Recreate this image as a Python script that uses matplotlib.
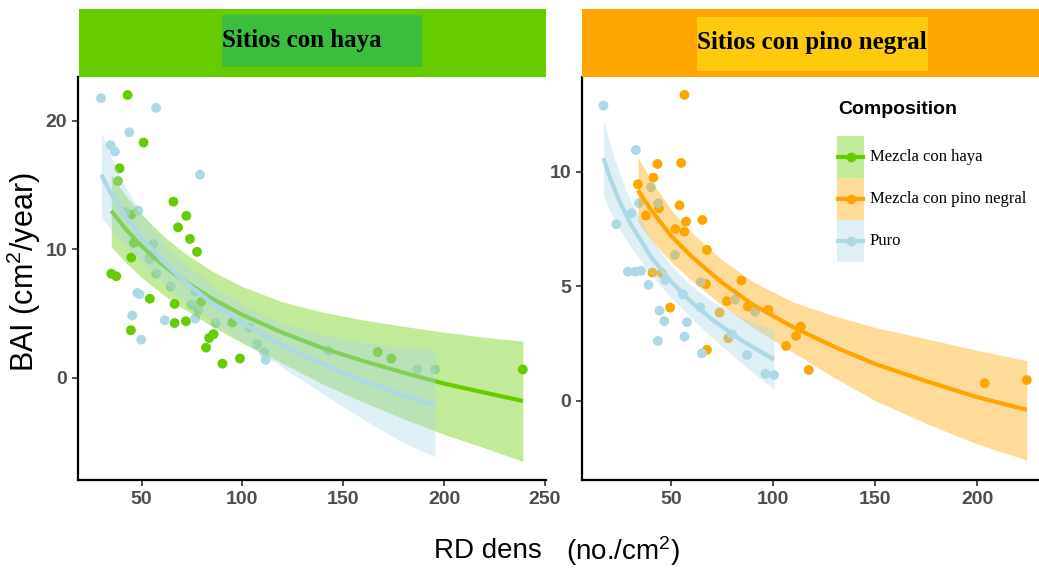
import matplotlib
matplotlib.use("Agg")
import matplotlib.pyplot as plt
from matplotlib import font_manager
from matplotlib.lines import Line2D
from matplotlib.patches import Rectangle

names = {f.name for f in font_manager.fontManager.ttflist}
NARROW = "Liberation Sans Narrow" if "Liberation Sans Narrow" in names else "Liberation Sans"
SERIF = "Liberation Serif"

plt.rcParams["mathtext.fontset"] = "custom"
plt.rcParams["mathtext.rm"] = NARROW
plt.rcParams["mathtext.it"] = NARROW

GREEN = "#66cc00"
ORANGE = "#ffa500"
BLUE = "#add8e6"

# ---- Sitios con haya: points
haya_mix_x = [43.1, 51, 39.1, 38.3, 65.8, 72.2, 44.9, 68.1, 74, 77.5, 46.2, 44.9, 54, 35, 37.5,
              54.1, 66.4, 79.6, 66.4, 72, 44.7, 83.5, 85.7, 82, 90.1, 98.8, 95, 167.1, 173.8, 239]
haya_mix_y = [22.0, 18.3, 16.3, 15.3, 13.7, 12.6, 12.7, 11.7, 10.8, 9.8, 10.5, 9.35, 9.3, 8.1, 7.9,
              6.15, 5.75, 5.9, 4.26, 4.4, 3.7, 3.1, 3.4, 2.35, 1.1, 1.5, 4.3, 2.0, 1.5, 0.65]
haya_puro_x = [29.9, 57.2, 43.9, 34.7, 36.8, 79, 48.4, 42.0, 55.8, 54.1, 57.3, 47.9, 49, 64.5, 76.8,
               74.8, 78.1, 45.4, 61.5, 76.6, 86.7, 49.8, 103.3, 107.2, 110.8, 111.5, 142.7, 186.7, 195.5]
haya_puro_y = [21.75, 21.0, 19.1, 18.1, 17.6, 15.8, 13.0, 12.9, 10.4, 9.25, 8.1, 6.6, 6.5, 7.1, 6.7,
               5.7, 5.25, 4.85, 4.47, 4.6, 4.26, 2.96, 3.9, 2.6, 2.0, 1.4, 2.1, 0.65, 0.65]

# ---- Sitios con haya: smooth curves
haya_mix_fx = [35, 42, 50, 60, 70, 85, 100, 120, 140, 160, 180, 200, 220, 239]
haya_mix_fit = [13.0, 11.6, 10.25, 8.85, 7.65, 6.15, 4.9, 3.5, 2.3, 1.3, 0.4, -0.45, -1.15, -1.8]
haya_mix_hi = [15.8, 14.2, 12.7, 11.15, 9.85, 8.3, 7.1, 5.9, 5.1, 4.5, 4.0, 3.55, 3.15, 2.85]
haya_mix_lo = [10.2, 9.0, 7.8, 6.55, 5.45, 4.0, 2.7, 1.1, -0.5, -1.9, -3.2, -4.4, -5.45, -6.5]
haya_puro_fx = [30, 35, 42, 50, 60, 70, 85, 100, 120, 140, 160, 180, 195.5]
haya_puro_fit = [15.8, 14.3, 12.55, 10.9, 9.15, 7.65, 5.8, 4.25, 2.5, 1.05, -0.25, -1.35, -2.15]
haya_puro_hi = [19.1, 17.1, 14.85, 12.8, 10.75, 9.1, 7.2, 5.7, 4.2, 3.35, 2.75, 2.35, 2.2]
haya_puro_lo = [12.5, 11.5, 10.25, 9.0, 7.55, 6.2, 4.4, 2.8, 0.8, -1.25, -3.25, -5.05, -6.15]

# ---- Sitios con pino negral: points
pino_mix_x = [56.5, 43.3, 54.9, 41.3, 33.7, 44, 54.1, 37.6, 65.3, 57.3, 56.5, 52, 67.5, 40.8, 45.4,
              67, 84.4, 77.3, 87.6, 97.6, 73.7, 49.5, 78, 67.5, 113.5, 111.2, 106.3, 117.4, 203.6, 224.2]
pino_mix_y = [13.37, 10.35, 10.39, 9.75, 9.46, 8.41, 8.54, 8.09, 7.9, 7.83, 7.39, 7.5, 6.59, 5.6, 5.57,
              5.1, 5.25, 4.35, 4.11, 3.97, 3.85, 4.07, 2.73, 2.22, 3.24, 2.83, 2.39, 1.34, 0.76, 0.9]
pino_puro_x = [16.8, 32.7, 40.1, 34.2, 43.6, 30.6, 23.1, 51.8, 28.8, 32.4, 35.3, 38.9, 47.1, 64.5,
               55.7, 81.3, 91.1, 64.2, 44.3, 46.6, 57.7, 43.5, 56.5, 79.7, 65, 87.1, 96.2, 100.4]
pino_puro_y = [12.9, 10.96, 9.33, 8.63, 8.63, 8.19, 7.71, 6.37, 5.64, 5.64, 5.68, 5.06, 5.28, 5.18,
               4.65, 4.42, 3.89, 4.08, 3.94, 3.48, 3.43, 2.61, 2.8, 2.9, 2.07, 2.0, 1.17, 1.12]

# ---- Sitios con pino negral: smooth curves
pino_mix_fx = [33.7, 40, 50, 60, 75, 90, 110, 130, 150, 175, 200, 224.2]
pino_mix_fit = [9.2, 8.35, 7.2, 6.3, 5.15, 4.2, 3.2, 2.35, 1.6, 0.85, 0.15, -0.4]
pino_mix_hi = [10.65, 9.65, 8.35, 7.35, 6.15, 5.2, 4.3, 3.7, 3.2, 2.7, 2.2, 1.75]
pino_mix_lo = [7.8, 7.05, 6.05, 5.25, 4.15, 3.2, 2.1, 1.0, 0.0, -1.0, -1.9, -2.6]
pino_puro_fx = [16.8, 20, 25, 30, 40, 50, 60, 70, 85, 100.4]
pino_puro_fit = [10.6, 9.75, 8.65, 7.75, 6.3, 5.2, 4.3, 3.55, 2.6, 1.8]
pino_puro_hi = [12.3, 11.2, 9.85, 8.75, 7.1, 5.9, 5.0, 4.35, 3.6, 3.1]
pino_puro_lo = [8.95, 8.3, 7.45, 6.75, 5.5, 4.5, 3.6, 2.75, 1.6, 0.5]

haya_xticks = [50, 100, 150, 200, 250]
haya_yticks = [0, 10, 20]
pino_xticks = [50, 100, 150, 200]
pino_yticks = [0, 5, 10]

legend_labels = ["Mezcla con haya", "Mezcla con pino negral", "Puro"]
legend_colors = [GREEN, ORANGE, BLUE]

fig = plt.figure(figsize=(10.39, 5.72), dpi=100)
W, H = 1039, 572


def fx(px):
    return px / W


def fy(py):
    return 1 - py / H


ax1 = fig.add_axes([fx(78), fy(480), fx(546) - fx(78), fy(77) - fy(480)])
ax2 = fig.add_axes([fx(582), fy(480), 1 - fx(582), fy(77) - fy(480)])


def draw_panel(ax, groups):
    for x, y, c in groups["points"]:
        ax.scatter(x, y, s=50, color=c, edgecolors="none", zorder=1)
    for sx, fit, lo, hi, c in groups["smooth"]:
        ax.fill_between(sx, lo, hi, color=c, alpha=0.4, linewidth=0, zorder=2)
        ax.plot(sx, fit, color=c, lw=3, solid_capstyle="butt", zorder=2)
    for s in ["top", "right"]:
        ax.spines[s].set_visible(False)
    for s in ["left", "bottom"]:
        ax.spines[s].set_linewidth(1.6)
        ax.spines[s].set_color("black")
    ax.tick_params(length=4, width=1.2, color="#333333", labelcolor="#4d4d4d", pad=4)
    for lab in ax.get_xticklabels() + ax.get_yticklabels():
        lab.set_fontfamily(NARROW)
        lab.set_fontweight("bold")
        lab.set_fontsize(14)


ax1.set_xlim(18.5, 250.5)
ax1.set_ylim(-7.95, 23.4)
ax1.set_xticks(haya_xticks)
ax1.set_yticks(haya_yticks)
draw_panel(ax1, {
    "points": [(haya_mix_x, haya_mix_y, GREEN), (haya_puro_x, haya_puro_y, BLUE)],
    "smooth": [(haya_mix_fx, haya_mix_fit, haya_mix_lo, haya_mix_hi, GREEN),
               (haya_puro_fx, haya_puro_fit, haya_puro_lo, haya_puro_hi, BLUE)],
})

ax2.set_xlim(6.3, 230.2)
ax2.set_ylim(-3.47, 14.15)
ax2.set_xticks(pino_xticks)
ax2.set_yticks(pino_yticks)
draw_panel(ax2, {
    "points": [(pino_mix_x, pino_mix_y, ORANGE), (pino_puro_x, pino_puro_y, BLUE)],
    "smooth": [(pino_mix_fx, pino_mix_fit, pino_mix_lo, pino_mix_hi, ORANGE),
               (pino_puro_fx, pino_puro_fit, pino_puro_lo, pino_puro_hi, BLUE)],
})

# facet strips
for x0, x1, col, box, title in [
    (79, 546, GREEN, (222, 15, 422, 67, "#3dbd3d"), "Sitios con haya"),
    (582, 1039, ORANGE, (697, 17, 928, 71, "#ffc90e"), "Sitios con pino negral"),
]:
    fig.patches.append(Rectangle((fx(x0), fy(77)), fx(x1) - fx(x0), fy(9) - fy(77),
                                 transform=fig.transFigure, facecolor=col, edgecolor="none"))
    bx0, by0, bx1, by1, bc = box
    fig.patches.append(Rectangle((fx(bx0), fy(by1)), fx(bx1) - fx(bx0), fy(by0) - fy(by1),
                                 transform=fig.transFigure, facecolor=bc, edgecolor="none"))
    fig.text(fx(bx0), fy((by0 + by1) / 2 - 1), title, ha="left", va="center",
             fontfamily=SERIF, fontweight="bold", fontsize=18, color="black")

# axis titles
fig.text(fx(24), fy(272), r"BAI (cm$^2$/year)", rotation=90, ha="center", va="center",
         fontfamily="Liberation Sans", fontsize=22, color="black")
fig.text(fx(542), fy(551), "RD dens", ha="right", va="center",
         fontfamily=NARROW, fontsize=20, color="black")
fig.text(fx(566), fy(551), r"(no./cm$^2$)", ha="left", va="center",
         fontfamily=NARROW, fontsize=20, color="black")

# legend, drawn as keys in figure pixels
fig.text(fx(838), fy(110), "Composition", ha="left", va="center",
         fontfamily=NARROW, fontweight="bold", fontsize=14, color="black")
key_top, key_h, key_x0, key_x1 = 136, 42, 837, 864
for i, (lab, c) in enumerate(zip(legend_labels, legend_colors)):
    top = key_top + i * key_h
    mid = top + key_h / 2
    fig.patches.append(Rectangle((fx(key_x0), fy(top + key_h)), fx(key_x1) - fx(key_x0),
                                 fy(top) - fy(top + key_h), transform=fig.transFigure,
                                 facecolor=c, alpha=0.4, edgecolor="none"))
    fig.add_artist(Line2D([fx(key_x0 + 1), fx(key_x1 - 1)], [fy(mid), fy(mid)],
                          transform=fig.transFigure, color=c, lw=3))
    fig.add_artist(Line2D([fx((key_x0 + key_x1) / 2)], [fy(mid)], transform=fig.transFigure,
                          color=c, marker="o", markersize=6, linestyle="none"))
    fig.text(fx(870), fy(mid), lab, ha="left", va="center",
             fontfamily=SERIF, fontsize=12, color="black")

fig.savefig("out.png", dpi=100)
